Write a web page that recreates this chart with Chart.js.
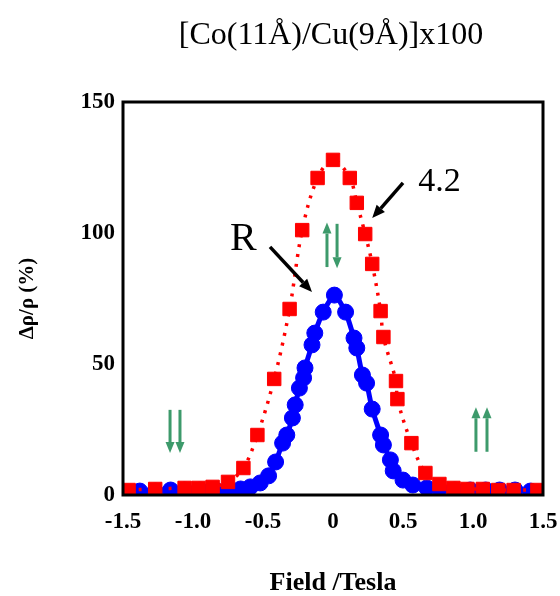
<!DOCTYPE html>
<html>
<head>
<meta charset="utf-8">
<script src="https://cdn.jsdelivr.net/npm/chart.js@4.4.1/dist/chart.umd.min.js"></script>
<style>
  html, body { margin: 0; padding: 0; background: #fff; }
  #wrap { width: 560px; height: 596px; }
</style>
</head>
<body>
<div id="wrap"><canvas id="gmr"></canvas></div>
<script>
// GMR of a Co/Cu multilayer

const TITLE = '[Co(11Å)/Cu(9Å)]x100';
const X_TITLE = 'Field /Tesla';
const Y_TITLE = 'Δρ/ρ (%)';
const xTicks = [-1.5, -1.0, -0.5, 0, 0.5, 1.0, 1.5];
const xTickLabels = ['-1.5', '-1.0', '-0.5', '0', '0.5', '1.0', '1.5'];
const yTicks = [0, 50, 100, 150];

// 4.2 K (red squares)
const field42 = [-1.46, -1.27, -1.06, -0.96, -0.86, -0.75, -0.64, -0.54, -0.42, -0.31, -0.22, -0.11, 0.0,
  0.12, 0.17, 0.23, 0.28, 0.34, 0.36, 0.45, 0.46, 0.56, 0.66, 0.76, 0.86, 0.96, 1.07, 1.18, 1.29, 1.46];
const mr42 = [1.9, 2.3, 2.7, 2.7, 3.1, 5.0, 10.3, 22.9, 44.3, 71.0, 101.1, 121.0, 127.9,
  121.0, 111.5, 99.6, 88.2, 70.2, 60.3, 43.5, 36.6, 19.8, 8.4, 4.2, 2.7, 2.3, 2.3, 1.9, 1.9, 1.9];

// room temperature, "R" (blue dots)
const fieldRT = [-1.38, -1.27, -1.16, -1.06, -0.95, -0.84, -0.75, -0.66, -0.59, -0.52, -0.46, -0.41, -0.36, -0.33,
  -0.29, -0.27, -0.24, -0.21, -0.2, -0.15, -0.13, -0.07, 0.01, 0.09, 0.15, 0.17, 0.21, 0.24, 0.28, 0.34, 0.36,
  0.41, 0.43, 0.5, 0.57, 0.67, 0.76, 0.87, 0.98, 1.09, 1.19, 1.3, 1.41];
const mrRT = [1.5, 1.5, 1.9, 1.9, 1.9, 1.9, 1.9, 2.3, 3.1, 4.6, 7.3, 12.6, 19.8, 22.9,
  29.4, 34.4, 40.8, 44.7, 48.5, 57.3, 61.8, 69.8, 76.3, 69.8, 59.9, 56.1, 45.8, 42.7, 32.8, 22.9, 19.1,
  13.4, 9.2, 5.7, 3.8, 2.7, 2.3, 1.9, 1.9, 1.9, 1.9, 1.9, 1.5];

// annotations, in data units
const labels = [
  { text: 'R', x: -0.64, y: 97.5, size: 40 },
  { text: '4.2', x: 0.76, y: 119.5, size: 34 }
];
const pointers = [
  { from: [-0.45, 94.7], to: [-0.15, 77.5] },
  { from: [0.5, 119.1], to: [0.28, 105.7] }
];
// spin arrows: up/down pairs
const spins = [
  { x: -0.043, from: 87, to: 104 },
  { x: 0.029, from: 103.5, to: 86.5 },
  { x: -1.164, from: 32.5, to: 16 },
  { x: -1.093, from: 32.5, to: 16 },
  { x: 1.021, from: 16.5, to: 33.5 },
  { x: 1.1, from: 16.5, to: 33.5 }
];

const SERIF = '"Liberation Serif", "DejaVu Serif", serif';

function toXY(xs, ys) {
  return xs.map((x, i) => ({ x: x, y: ys[i] }));
}

function drawArrow(ctx, x1, y1, x2, y2, color, lw, headLen, headW) {
  const a = Math.atan2(y2 - y1, x2 - x1);
  const bx = x2 - Math.cos(a) * headLen, by = y2 - Math.sin(a) * headLen;
  ctx.strokeStyle = color;
  ctx.fillStyle = color;
  ctx.lineWidth = lw;
  ctx.beginPath();
  ctx.moveTo(x1, y1);
  ctx.lineTo(bx, by);
  ctx.stroke();
  ctx.beginPath();
  ctx.moveTo(x2, y2);
  ctx.lineTo(bx + Math.sin(a) * headW / 2, by - Math.cos(a) * headW / 2);
  ctx.lineTo(bx - Math.sin(a) * headW / 2, by + Math.cos(a) * headW / 2);
  ctx.closePath();
  ctx.fill();
}

const decor = {
  id: 'decor',
  afterDraw(chart) {
    const { ctx, chartArea: a, scales: { x, y } } = chart;
    ctx.save();
    // frame
    ctx.strokeStyle = '#000';
    ctx.lineWidth = 3;
    ctx.strokeRect(a.left, a.top, a.right - a.left, a.bottom - a.top);
    // title
    ctx.fillStyle = '#000';
    ctx.font = '32px ' + SERIF;
    ctx.textAlign = 'center';
    ctx.textBaseline = 'middle';
    ctx.fillText(TITLE, 331, 36);
    // R, 4.2
    labels.forEach(l => {
      ctx.font = l.size + 'px ' + SERIF;
      ctx.fillText(l.text, x.getPixelForValue(l.x), y.getPixelForValue(l.y));
    });
    pointers.forEach(p => drawArrow(ctx,
      x.getPixelForValue(p.from[0]), y.getPixelForValue(p.from[1]),
      x.getPixelForValue(p.to[0]), y.getPixelForValue(p.to[1]), '#000', 3.5, 13, 11));
    spins.forEach(s => drawArrow(ctx,
      x.getPixelForValue(s.x), y.getPixelForValue(s.from),
      x.getPixelForValue(s.x), y.getPixelForValue(s.to), '#3d9a6b', 3, 11, 9));
    ctx.restore();
  }
};

new Chart(document.getElementById('gmr'), {
  type: 'scatter',
  data: {
    datasets: [
      {
        label: '4.2',
        data: toXY(field42, mr42),
        showLine: true,
        borderColor: '#ff0000',
        borderWidth: 3.5,
        borderDash: [3, 7],
        tension: 0.35,
        pointStyle: 'rect',
        pointRadius: 9.5,
        pointBackgroundColor: '#ff0000',
        pointBorderColor: '#ff0000',
        pointBorderWidth: 1
      },
      {
        label: 'R',
        data: toXY(fieldRT, mrRT),
        showLine: true,
        borderColor: '#0000ff',
        borderWidth: 5,
        tension: 0.2,
        pointStyle: 'circle',
        pointRadius: 8,
        pointBackgroundColor: '#0000ff',
        pointBorderColor: '#0000ff',
        pointBorderWidth: 1
      }
    ]
  },
  options: {
    responsive: true,
    maintainAspectRatio: false,
    devicePixelRatio: 1,
    animation: false,
    layout: { padding: { top: 102, right: 17, left: 0, bottom: 0 } },
    plugins: { legend: { display: false }, tooltip: { enabled: false } },
    scales: {
      x: {
        type: 'linear',
        min: -1.5,
        max: 1.5,
        afterBuildTicks: s => { s.ticks = xTicks.map(v => ({ value: v })); },
        afterFit: s => { s.height = 101; s.paddingLeft = 0; s.paddingRight = 0; },
        grid: { display: false, drawTicks: false },
        border: { display: false },
        ticks: {
          autoSkip: false,
          maxRotation: 0,
          padding: 13,
          color: '#000',
          font: { family: SERIF, size: 23, weight: 'bold' },
          callback: (v, i) => xTickLabels[i]
        },
        title: {
          display: true,
          text: X_TITLE,
          color: '#000',
          padding: { top: 0, bottom: 0 },
          font: { family: SERIF, size: 26, weight: 'bold', lineHeight: 1 }
        }
      },
      y: {
        min: 0,
        max: 150,
        afterBuildTicks: s => { s.ticks = yTicks.map(v => ({ value: v })); },
        afterFit: s => { s.width = 123; s.paddingTop = 0; s.paddingBottom = 0; },
        grid: { display: false, drawTicks: false },
        border: { display: false },
        ticks: {
          padding: 8,
          color: '#000',
          font: { family: SERIF, size: 23, weight: 'bold' }
        },
        title: {
          display: true,
          text: Y_TITLE,
          color: '#000',
          padding: { top: 17, bottom: 0 },
          font: { family: SERIF, size: 21, weight: 'bold', lineHeight: 1 }
        }
      }
    }
  },
  plugins: [decor]
});
</script>
</body>
</html>
